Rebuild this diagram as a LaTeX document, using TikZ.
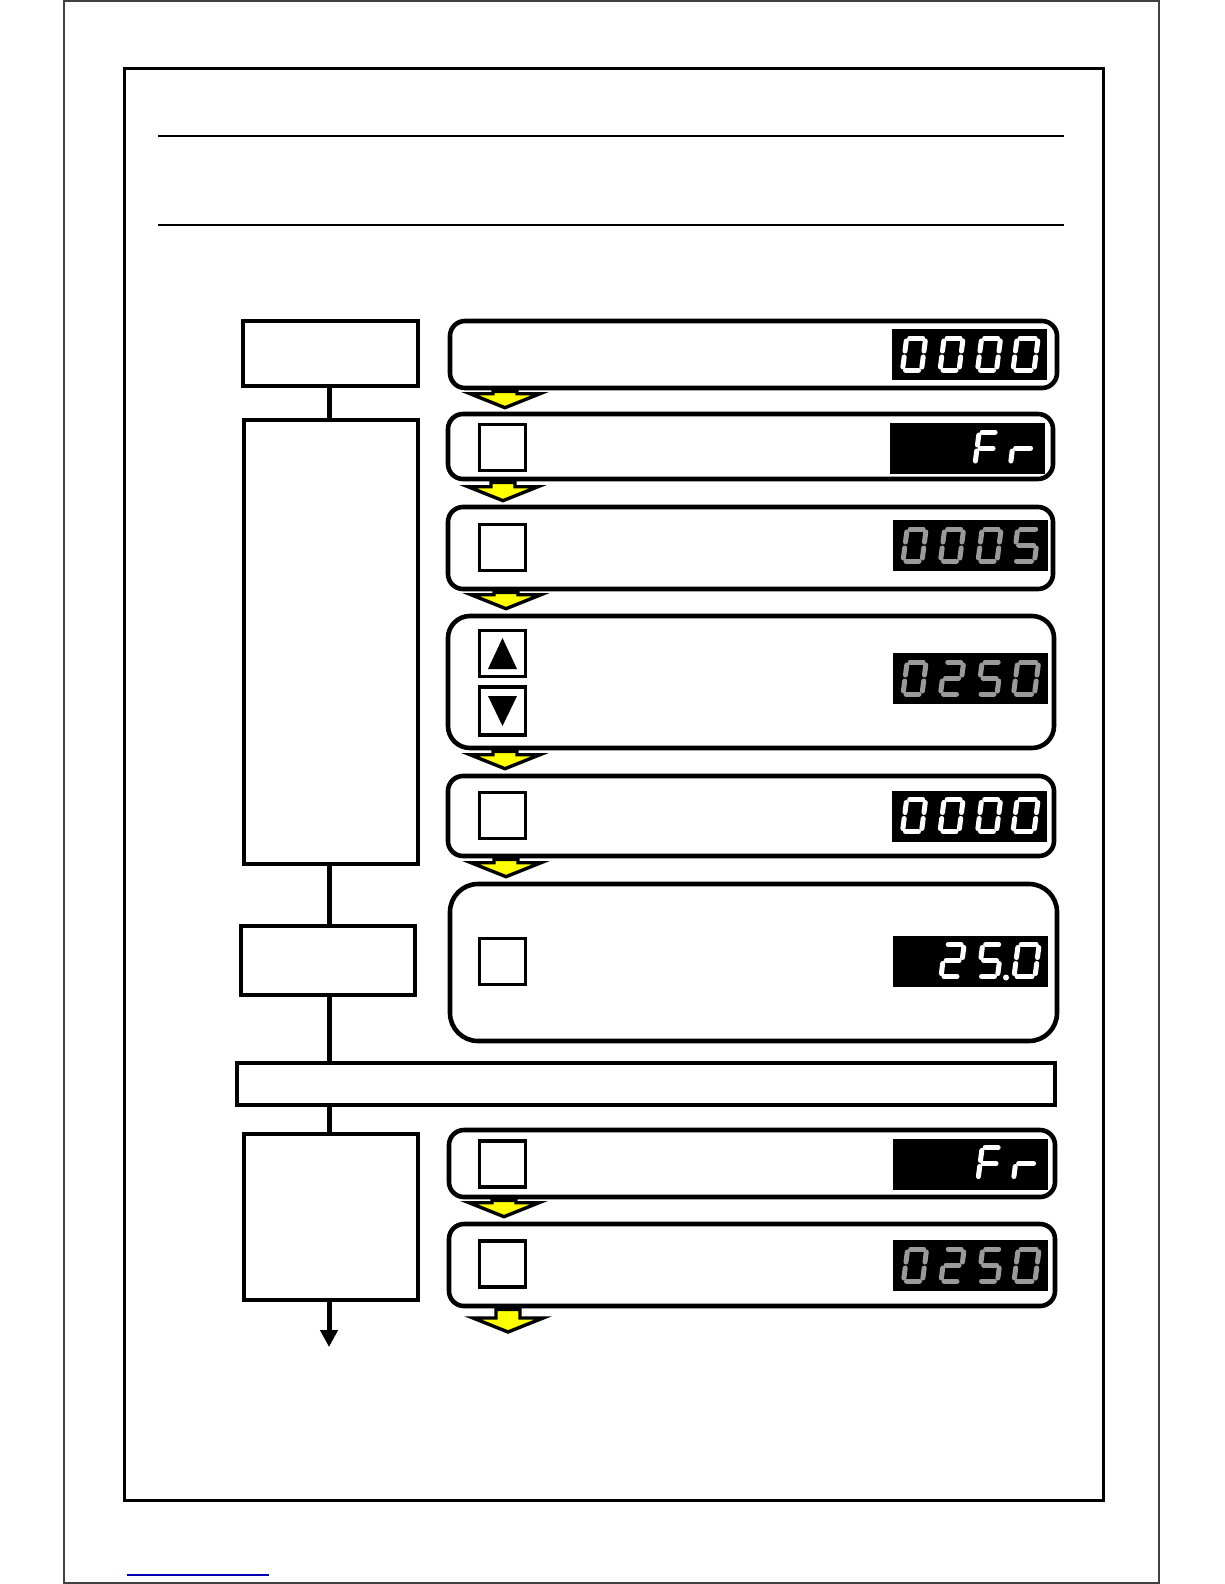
\documentclass[tikz,border=0pt]{standalone}
\usetikzlibrary{calc,arrows.meta}
\definecolor{segdim}{HTML}{9A9A9A}
\definecolor{arrowyellow}{HTML}{FFFF00}
\expandafter\def\csname dgsega\endcsname{\draw (0,32) -- (\dgU,32);}
\expandafter\def\csname dgsegb\endcsname{\draw (\dgU,32) -- (\dgU,16);}
\expandafter\def\csname dgsegc\endcsname{\draw (\dgU,16) -- (\dgU,0);}
\expandafter\def\csname dgsegd\endcsname{\draw (0,0) -- (\dgU,0);}
\expandafter\def\csname dgsege\endcsname{\draw (0,16) -- (0,0);}
\expandafter\def\csname dgsegf\endcsname{\draw (0,32) -- (0,16);}
\expandafter\def\csname dgsegg\endcsname{\draw (0,16) -- (\dgU,16);}
\newcommand\sdig[4]{%
  \begin{scope}[shift={(#1,#2)},x=1pt,y=1pt,xslant=0.13,color=#3,line width=5pt,line cap=round,shorten <=3pt,shorten >=3pt]
  \foreach \dgs in {#4}{\csname dgseg\dgs\endcsname}
  \end{scope}}
\newcommand\dsp[8]{%
  \node[disp] (#1) at (#2,#3) {};
  \pgfmathsetmacro\dgL{#2-77.5}%
  \pgfmathsetmacro\dgB{#3+15.5}%
  \def\dgU{19}%
  \pgfmathsetmacro\dgX{\dgL+10.5}\sdig{\dgX}{\dgB}{#4}{#5}%
  \pgfmathsetmacro\dgX{\dgL+48}\sdig{\dgX}{\dgB}{#4}{#6}%
  \pgfmathsetmacro\dgX{\dgL+85.5}\sdig{\dgX}{\dgB}{#4}{#7}%
  \def\dgU{21}%
  \pgfmathsetmacro\dgX{\dgL+121}\sdig{\dgX}{\dgB}{#4}{#8}%
}
\newcommand\yarrow[3]{%
  \path[yarr] let \p1=(#2.south), \p2=(#3) in
   (#1pt-12pt,\y1-1pt) -- (#1pt-12pt,\y2+14pt) -- (#1pt-35pt,\y2+14pt) -- (#1pt,\y2)
   -- (#1pt+35pt,\y2+14pt) -- (#1pt+12pt,\y2+14pt) -- (#1pt+12pt,\y1-1pt) -- cycle;}
\begin{document}
\begin{tikzpicture}[x=1pt,y=-1pt,
  lbox/.style={draw,line width=4.6pt,inner sep=0pt,fill=white},
  rbox/.style={draw,line width=4.6pt,rounded corners=15pt,inner sep=0pt},
  btn/.style={draw,line width=3.2pt,minimum size=46pt,inner sep=0pt,fill=white},
  disp/.style={fill=black,minimum width=155pt,minimum height=51pt,inner sep=0pt},
  conn/.style={line width=5pt},
  yarr/.style={draw=black,fill=arrowyellow,line width=3.4pt,line join=miter}]
\useasboundingbox (0,0) rectangle (1224,1584);
\fill[white] (0,0) rectangle (1224,1584);
% page frames
\draw[line width=1.5pt,black!75] (64,1) rectangle (1159,1583);
\draw[line width=3pt] (124,69) rectangle (1103,1500);
\draw[line width=2pt] (158,136) -- (1064,136);
\draw[line width=2pt] (158,225) -- (1064,225);
\draw[line width=1.2pt,blue!70!black] (127,1575) -- (269,1575);
% left column
\coordinate (cx) at (329,0);
\node[lbox,minimum width=175pt,minimum height=65pt] (L1) at (330.5,353.5) {};
\node[lbox,minimum width=174pt,minimum height=444pt] (L2) at (331,642) {};
\node[lbox,minimum width=174pt,minimum height=69pt] (L3) at (328,960.5) {};
\node[lbox,minimum width=818pt,minimum height=42pt] (W) at (646,1084) {};
\node[lbox,minimum width=174pt,minimum height=166pt] (L4) at (331,1217) {};
\coordinate (end4) at (329,1347);
\draw[conn] (L1.south -| cx) -- (L2.north -| cx);
\draw[conn] (L2.south -| cx) -- (L3.north -| cx);
\draw[conn] (L3.south -| cx) -- (W.north -| cx);
\draw[conn] (W.south -| cx) -- (L4.north -| cx);
\draw[conn,-{Triangle[width=17pt,length=17pt]}] (L4.south -| cx) -- (end4);
% right column boxes
\node[rbox,minimum width=607pt,minimum height=67pt] (R1) at (753.5,354.5) {};
\node[rbox,minimum width=605pt,minimum height=65pt] (R2) at (750.5,446.5) {};
\node[rbox,minimum width=605pt,minimum height=82pt] (R3) at (750.5,548) {};
\node[rbox,rounded corners=22pt,minimum width=606pt,minimum height=132pt] (R4) at (751,682) {};
\node[rbox,minimum width=606pt,minimum height=80pt] (R5) at (751,816) {};
\node[rbox,rounded corners=28pt,minimum width=607pt,minimum height=157pt] (R6) at (753.5,962.5) {};
\node[rbox,minimum width=606pt,minimum height=67pt] (R7) at (752,1163.5) {};
\node[rbox,minimum width=606pt,minimum height=82pt] (R8) at (752,1265) {};
% buttons
\node[btn] (S2) at (502.5,447.5) {};
\node[btn] (S3) at (502.5,547.5) {};
\node[btn] (Sup) at (502.5,653.5) {};
\node[btn,minimum height=48pt] (Sdn) at (502.5,711) {};
\node[btn] (S5) at (502.5,815.5) {};
\node[btn] (S6) at (502.5,961.5) {};
\node[btn] (S7) at (502.5,1164) {};
\node[btn] (S8) at (502.5,1264) {};
\fill ($(Sup.center)+(0,-15.5)$) -- ($(Sup.center)+(14.5,15.5)$) -- ($(Sup.center)+(-14.5,15.5)$) -- cycle;
\fill ($(Sdn.center)+(0,15)$) -- ($(Sdn.center)+(14.5,-15)$) -- ($(Sdn.center)+(-14.5,-15)$) -- cycle;
% displays
\dsp{D1}{969.5}{354.5}{white}{a,b,c,d,e,f}{a,b,c,d,e,f}{a,b,c,d,e,f}{a,b,c,d,e,f}
\dsp{D2}{967}{448.5}{white}{x}{x}{a,f,g,e}{e,g}
\dsp{D3}{970}{545.5}{segdim}{a,b,c,d,e,f}{a,b,c,d,e,f}{a,b,c,d,e,f}{a,f,g,c,d}
\dsp{D4}{970}{678.5}{segdim}{a,b,c,d,e,f}{a,b,g,e,d}{a,f,g,c,d}{a,b,c,d,e,f}
\dsp{D5}{969.5}{816}{white}{a,b,c,d,e,f}{a,b,c,d,e,f}{a,b,c,d,e,f}{a,b,c,d,e,f}
\dsp{D6}{970.5}{961}{white}{x}{a,b,g,e,d}{a,f,g,c,d}{a,b,c,d,e,f}
\fill[white] (1006,977.5) circle (3);
\dsp{D7}{970}{1164}{white}{x}{x}{a,f,g,e}{e,g}
\dsp{D8}{970.5}{1265.5}{segdim}{a,b,c,d,e,f}{a,b,g,e,d}{a,f,g,c,d}{a,b,c,d,e,f}
% yellow step arrows
\coordinate (end8) at (508,1332);
\yarrow{505}{R1}{[yshift=4pt]R2.north}
\yarrow{503}{R2}{[yshift=4pt]R3.north}
\yarrow{506}{R3}{[yshift=5pt]R4.north}
\yarrow{505}{R4}{[yshift=5pt]R5.north}
\yarrow{506}{R5}{[yshift=5pt]R6.north}
\yarrow{504}{R7}{[yshift=5pt]R8.north}
\yarrow{508}{R8}{end8}
\end{tikzpicture}
\end{document}
